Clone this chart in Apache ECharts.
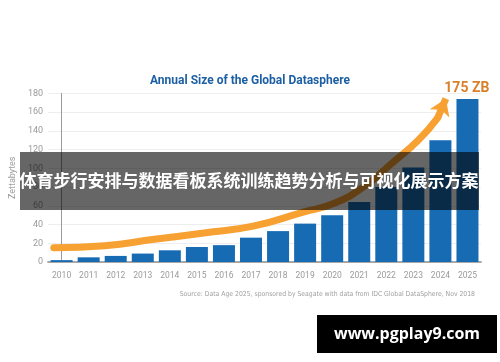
<!DOCTYPE html>
<html>
<head>
<meta charset="utf-8">
<script src="https://cdn.jsdelivr.net/npm/echarts@6/dist/echarts.min.js"></script>
<style>
html,body{margin:0;padding:0;background:#fff;}
#chart{width:500px;height:362px;}
</style>
</head>
<body>
<div id="chart"></div>
<script>
var years = ['2010','2011','2012','2013','2014','2015','2016','2017','2018','2019','2020','2021','2022','2023','2024','2025'];
var zettabytes = [2, 5, 6.5, 9, 12.5, 16, 18, 26, 33, 41, 50, 64, 80, 101, 130, 174];
var yTicks = [0, 20, 40, 60, 80, 100, 120, 140, 160, 180];
// trend arrow path: [category position, value]
var trendCurve = [[-0.29, 15.2], [1.6, 17.4], [3.43, 24.2], [5.26, 31], [7.08, 38.3], [8.9, 53], [10.1, 63], [11.2, 81], [12.19, 105], [13.18, 130], [13.9, 154]];
var trendTip = [14.2, 174.5];
var titleText = 'Annual Size of the Global Datasphere';
var peakLabel = '175 ZB';
var sourceText = 'Source: Data Age 2025, sponsored by Seagate with data from IDC Global DataSphere, Nov 2018';
var bannerText = '体育步行安排与数据看板系统训练趋势分析与可视化展示方案';
var siteText = 'www.pgplay9.com';

var chart = echarts.init(document.getElementById('chart'), null, {renderer: 'canvas'});
var option = {
  animation: false,
  backgroundColor: '#ffffff',
  title: {
    text: titleText,
    left: 'center',
    top: 70,
    textStyle: {color: '#1d5fa3', fontSize: 12, fontWeight: 'bold', fontFamily: 'Roboto'}
  },
  grid: {left: 41, right: 19, top: 93.5, bottom: 100},
  xAxis: [{
    type: 'category',
    data: years,
    axisTick: {show: false},
    axisLine: {lineStyle: {color: '#a8a8a8', width: 2}},
    axisLabel: {color: '#9a9a9a', fontSize: 8.5, margin: 9, fontFamily: 'Roboto'}
  }, {
    type: 'value',
    min: -0.5, max: 15.5,
    show: false
  }],
  yAxis: {
    type: 'value',
    min: 0, max: 180, interval: 20,
    name: 'Zettabytes',
    nameLocation: 'middle',
    nameGap: 22,
    nameTextStyle: {color: '#a0a0a0', fontSize: 9, fontFamily: 'Roboto'},
    axisLine: {show: true, lineStyle: {color: '#9a9a9a', width: 1}},
    axisTick: {show: false},
    splitLine: {lineStyle: {color: '#eeeeee'}},
    axisLabel: {color: '#9a9a9a', fontSize: 9, margin: 5, fontFamily: 'Roboto',
      formatter: function (v) { return yTicks.indexOf(v) >= 0 ? String(v) : ''; }}
  },
  series: [{
    type: 'bar',
    data: zettabytes,
    barWidth: 22,
    itemStyle: {color: '#176bb3'},
    z: 2
  }, {
    type: 'line',
    xAxisIndex: 1,
    data: trendCurve,
    smooth: true,
    symbol: 'none',
    lineStyle: {color: '#f7a133', width: 7, cap: 'round'},
    z: 3,
    markLine: {
      silent: true,
      symbol: ['none', 'arrow'],
      symbolSize: [16, 16],
      lineStyle: {color: '#f7a133', width: 7, type: 'solid'},
      label: {show: false},
      data: [[{coord: trendCurve[trendCurve.length - 1]}, {coord: trendTip}]]
    },
    markPoint: {
      symbol: 'circle', symbolSize: 0,
      label: {show: true, formatter: peakLabel, color: '#d9812a', fontSize: 14, fontWeight: 'bold', fontFamily: 'Roboto', offset: [21, -10]},
      data: [{coord: trendTip}]
    }
  }],
  graphic: [{
    type: 'text',
    right: 25, top: 291,
    style: {text: sourceText, fill: '#a0a0a0', fontSize: 6.8, fontFamily: 'Liberation Sans Narrow, DejaVu Sans Condensed, sans-serif'}
  }, {
    type: 'rect', z: 100,
    shape: {x: 20, y: 152, width: 459, height: 58},
    style: {fill: 'rgba(0,0,0,0.6)'}
  }, {
    type: 'text', z: 101,
    x: 249, y: 181,
    style: {text: bannerText, fill: '#ffffff', fontSize: 17, fontWeight: 'bold', fontFamily: 'Noto Sans CJK SC', align: 'center', verticalAlign: 'middle'}
  }, {
    type: 'rect', z: 100,
    shape: {x: 317, y: 315, width: 180, height: 38},
    style: {fill: '#000000'}
  }, {
    type: 'text', z: 101,
    x: 407, y: 334,
    style: {text: siteText, fill: '#ffffff', fontSize: 16, fontWeight: 'bold', fontFamily: 'Open Sans', align: 'center', verticalAlign: 'middle'}
  }]
};
chart.setOption(option);
</script>
</body>
</html>
